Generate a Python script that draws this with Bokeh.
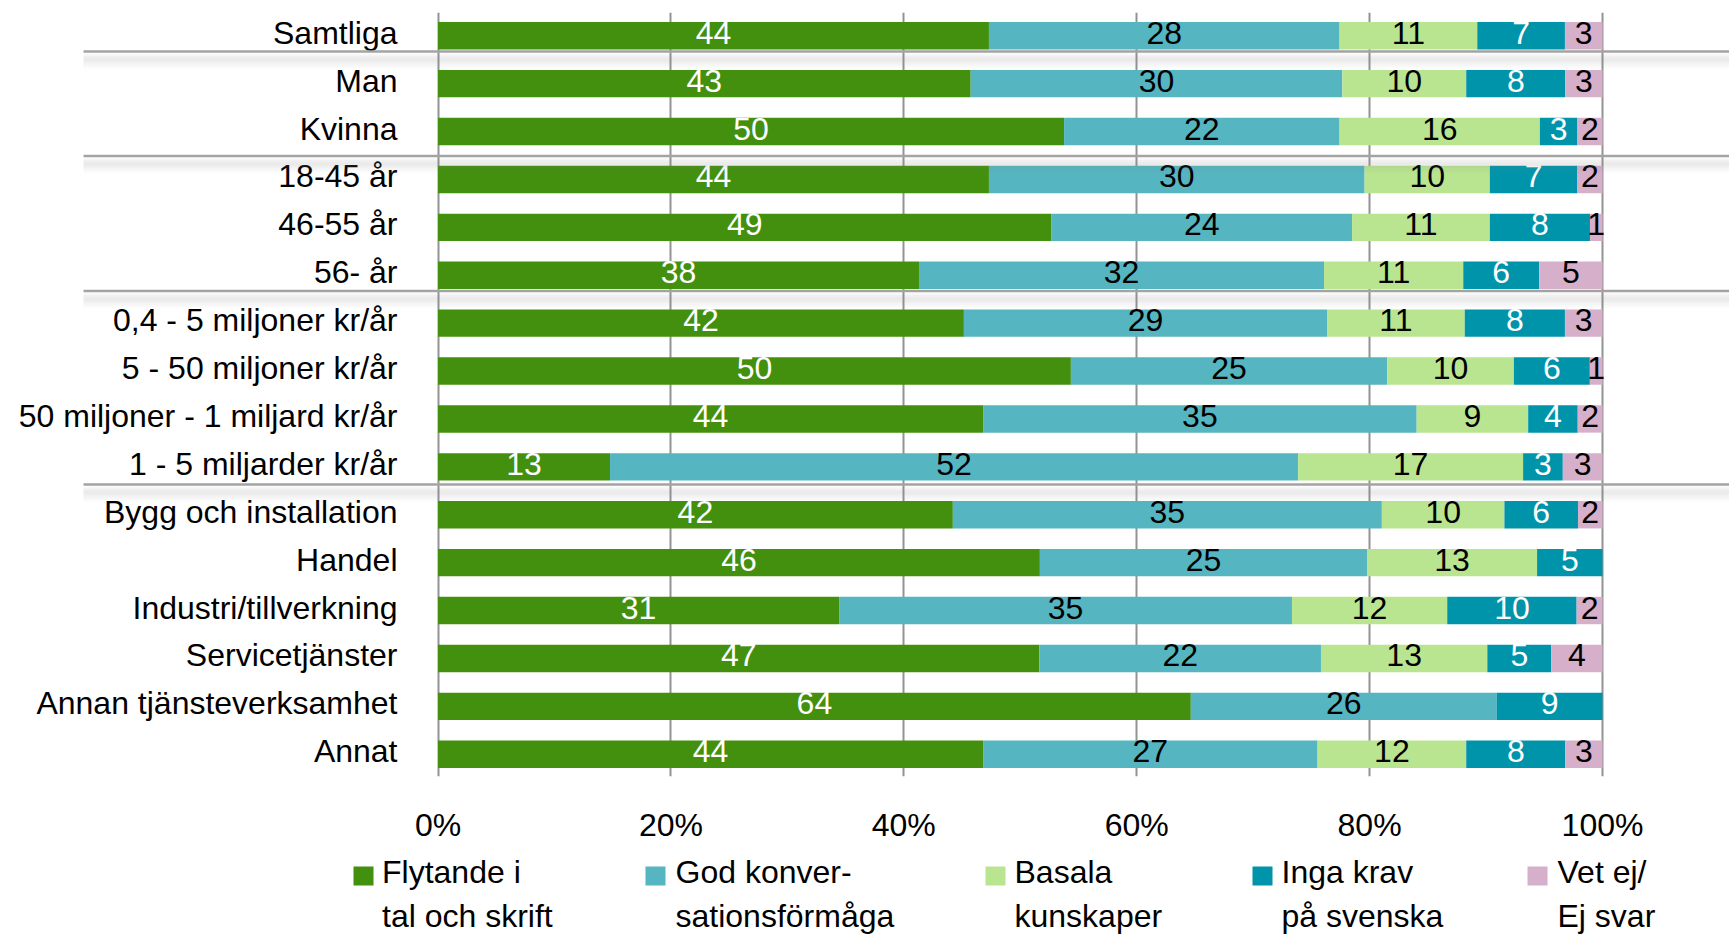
import numpy as np
from bokeh.plotting import figure
from bokeh.models import ColumnDataSource, Range1d, FixedTicker
from bokeh.layouts import column
from bokeh.core.properties import value
from bokeh.embed import file_html
from bokeh.resources import INLINE

# ---------------- data ----------------
categories = ["Samtliga", "Man", "Kvinna", "18-45 år", "46-55 år", "56- år",
              "0,4 - 5 miljoner kr/år", "5 - 50 miljoner kr/år",
              "50 miljoner - 1 miljard kr/år", "1 - 5 miljarder kr/år",
              "Bygg och installation", "Handel", "Industri/tillverkning",
              "Servicetjänster", "Annan tjänsteverksamhet", "Annat"]
flytande = [44, 43, 50, 44, 49, 38, 42, 50, 44, 13, 42, 46, 31, 47, 64, 44]
god_konv = [28, 30, 22, 30, 24, 32, 29, 25, 35, 52, 35, 25, 35, 22, 26, 27]
basala   = [11, 10, 16, 10, 11, 11, 11, 10,  9, 17, 10, 13, 12, 13,  0, 12]
inga_krav = [7,  8,  3,  7,  8,  6,  8,  6,  4,  3,  6,  5, 10,  5,  9,  8]
vet_ej   = [3,  3,  2,  2,  1,  5,  3,  1,  2,  3,  2,  0,  2,  4,  0,  3]
legend_line1 = ["Flytande i", "God konver-", "Basala", "Inga krav", "Vet ej/"]
legend_line2 = ["tal och skrift", "sationsförmåga", "kunskaper", "på svenska", "Ej svar"]
tick_values = [0, 20, 40, 60, 80, 100]
tick_labels = ["0%", "20%", "40%", "60%", "80%", "100%"]

# ---------------- styles ----------------
COLORS = ["#43900F", "#55B5C1", "#B9E590", "#0094AB", "#D6AFCB"]
LABEL_COLORS = ["white", "black", "black", "white", "black"]
FONT = "Liberation Sans"
FS = "32px"
GRID = "#939393"
SEP_Y = [0.33, 2.51, 5.33, 9.37]   # separator positions (row units)
PX_PER_ROW = 48.4
PX_PER_PCT = 11.645
ZERO_PX = 437.5
SEP_LEFT_PX = 83
BAR_H = 0.572
TXT_DY = -3

W = 1729
H1 = 845
H2 = 91

series = [flytande, god_konv, basala, inga_krav, vet_ej]
vals = np.array(series, dtype=float)          # (5, n)
totals = vals.sum(axis=0)
shares = vals / totals * 100.0
rights = np.cumsum(shares, axis=0)
lefts = rights - shares
n = len(categories)
ys = np.arange(n)

xs0 = -ZERO_PX / PX_PER_PCT
xs1 = (W - ZERO_PX) / PX_PER_PCT
p = figure(width=W, height=H1, output_backend="svg", toolbar_location=None,
           x_range=Range1d(xs0, xs1), y_range=Range1d(15.465, -0.4855),
           y_axis_location=None, min_border_left=0, min_border_right=0,
           min_border_top=12, min_border_bottom=H1 - 784)
p.outline_line_color = None
p.ygrid.visible = False
p.xgrid.ticker = FixedTicker(ticks=tick_values)
p.xgrid.grid_line_color = GRID
p.xgrid.grid_line_width = 2

p.xaxis.ticker = FixedTicker(ticks=tick_values)
p.xaxis.major_label_overrides = {v: l for v, l in zip(tick_values, tick_labels)}
p.xaxis.axis_line_color = None
p.xaxis.major_tick_line_color = None
p.xaxis.minor_tick_line_color = None
p.xaxis.major_label_text_font = FONT
p.xaxis.major_label_text_font_size = FS
p.xaxis.major_label_text_color = "black"
p.xaxis.major_label_standoff = 24

# bars
for k in range(5):
    src = ColumnDataSource(dict(y=ys, left=lefts[k], right=rights[k]))
    p.hbar(y="y", left="left", right="right", height=BAR_H, source=src,
           fill_color=COLORS[k], line_color=None)

# data labels
for k in range(5):
    mask = vals[k] > 0
    src = ColumnDataSource(dict(
        x=((lefts[k] + rights[k]) / 2)[mask], y=ys[mask],
        t=[str(int(v)) for v in vals[k][mask]]))
    p.text(x="x", y="y", text="t", source=src, text_align="center",
           text_baseline="middle", text_color=LABEL_COLORS[k], y_offset=TXT_DY,
           text_font=value(FONT), text_font_size=FS)

# category labels
csrc = ColumnDataSource(dict(x=[-40.5 / PX_PER_PCT] * n, y=ys, t=categories))
p.text(x="x", y="y", text="t", source=csrc, text_align="right",
       text_baseline="middle", text_color="black", y_offset=TXT_DY,
       text_font=value(FONT), text_font_size=FS)

# separators with soft shadow
x0 = -(ZERO_PX - SEP_LEFT_PX) / PX_PER_PCT
x1 = xs1
shadow_alpha = [0.06, 0.12, 0.16, 0.16, 0.12, 0.08, 0.05, 0.02]
for sy in SEP_Y:
    for j, a in enumerate(shadow_alpha):
        top = sy + (2 + 2 * j) / PX_PER_ROW
        p.quad(left=x0, right=x1, top=top, bottom=top + 2 / PX_PER_ROW,
               fill_color="#808080", fill_alpha=a, line_color=None)
    p.segment(x0=x0, x1=x1, y0=sy, y1=sy, line_color="#A3A3A3", line_width=2.5)

# legend figure (pixel coordinates of its own box)
p2 = figure(width=W, height=H2, output_backend="svg", toolbar_location=None,
            x_range=Range1d(0, W), y_range=Range1d(H2, 0),
            x_axis_location=None, y_axis_location=None,
            min_border=0, min_border_left=0, min_border_right=0,
            min_border_top=0, min_border_bottom=0)
p2.outline_line_color = None
p2.grid.visible = False
sq_x = [353, 645, 985, 1252, 1527]
txt_x = [381.5, 675, 1014, 1281, 1557]
p2.quad(left=sq_x, right=[x + 20 for x in sq_x], top=[21] * 5, bottom=[40] * 5,
        fill_color=COLORS, line_color=None)
p2.text(x=txt_x, y=[29.5] * 5, text=legend_line1, text_align="left",
        text_baseline="middle", text_color="black", y_offset=TXT_DY,
        text_font=value(FONT), text_font_size=FS)
p2.text(x=txt_x, y=[73.5] * 5, text=legend_line2, text_align="left",
        text_baseline="middle", text_color="black", y_offset=TXT_DY,
        text_font=value(FONT), text_font_size=FS)

layout = column(p, p2, spacing=0)
open("out.html", "w").write(file_html(layout, INLINE))
